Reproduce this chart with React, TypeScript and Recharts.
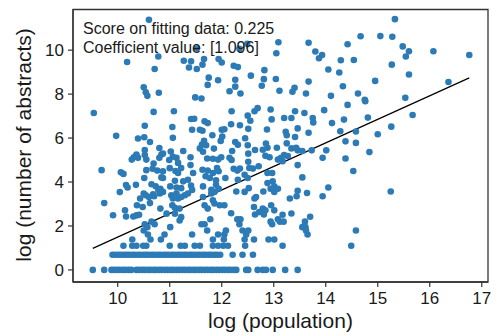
import React from 'react';
import { ScatterChart, Scatter, XAxis, YAxis, ReferenceLine, ReferenceArea, Label } from 'recharts';

const FONT = '"Liberation Sans", Arial, Helvetica, sans-serif';
const DOT = '#2c7bb6';
const INK = '#1a1a1a';
const SPINE = '#333333';

const xTicks = [10, 11, 12, 13, 14, 15, 16, 17];
const yTicks = [0, 2, 4, 6, 8, 10];
const xDomain: [number, number] = [9.14, 17.12];
const yDomain: [number, number] = [-0.55, 11.85];

const scoreText = 'Score on fitting data: 0.225';
const coefText = 'Coefficient value: [1.096]';
const xLabel = 'log (population)';
const yLabel = 'log (number of abstracts)';

// fitted line end points (log population, log abstracts)
const fitLine = [
  { x: 9.52, y: 0.98 },
  { x: 16.76, y: 8.74 },
];

// upper region points [log population, log abstracts]
const upperPoints: [number, number][] = [
  [10.60, 11.38], [10.18, 9.46], [10.78, 9.71], [10.71, 9.14], [10.50, 8.31], [10.54, 8.08], [10.57, 7.92], [10.79, 8.06],
  [12.49, 10.29], [13.09, 10.36], [13.05, 9.86], [12.34, 10.06], [11.52, 10.07], [11.27, 9.52], [11.41, 9.49], [11.37, 9.21],
  [11.52, 9.14], [11.63, 9.34], [11.66, 9.60], [11.94, 9.60], [12.00, 9.44], [12.23, 9.29], [12.31, 9.23], [12.82, 9.09],
  [12.56, 8.84], [11.75, 8.75], [11.93, 8.63], [12.26, 8.65], [12.81, 8.68], [13.04, 8.69], [11.73, 8.42], [12.26, 8.34],
  [12.77, 8.38], [12.15, 8.13], [12.36, 8.03], [13.11, 8.15], [11.49, 7.85], [11.61, 7.80],
  [13.67, 10.34], [14.67, 10.63], [15.05, 10.64], [14.42, 10.27], [13.80, 9.94], [13.93, 9.78], [13.87, 9.63], [14.29, 9.54],
  [14.54, 9.55], [14.05, 9.12], [14.26, 8.98], [13.67, 8.57], [14.95, 8.60], [13.40, 8.29], [13.36, 8.11], [13.62, 8.03],
  [14.33, 8.36], [14.10, 7.92], [14.62, 8.03], [14.75, 7.74],
  [15.33, 11.41], [15.28, 10.61], [15.48, 10.17], [15.60, 9.95], [15.54, 9.71], [16.07, 9.95], [16.76, 9.78], [15.27, 9.34],
  [15.60, 8.89], [16.36, 8.55], [15.53, 7.83],
];

const middlePoints: [number, number][] = [
  [9.54, 7.14], [10.69, 7.19], [11.08, 7.22], [10.52, 6.56], [11.05, 6.50], [9.97, 6.10], [10.39, 5.98], [10.51, 6.04],
  [10.62, 5.82], [11.06, 6.01], [10.80, 5.55], [10.52, 5.46], [11.02, 5.39], [10.36, 5.25], [10.31, 5.13], [10.27, 5.02],
  [10.39, 5.10], [10.52, 5.23], [10.55, 5.02], [10.84, 5.25], [10.80, 5.10], [10.87, 5.29], [10.69, 4.84], [10.99, 5.00],
  [11.06, 5.15], [11.13, 5.10], [9.69, 4.54], [10.06, 4.44], [10.11, 4.37], [10.55, 4.54], [10.67, 4.60], [10.76, 4.52],
  [10.87, 4.49], [11.00, 4.63], [11.11, 4.50], [10.51, 4.18], [10.84, 4.21], [10.87, 4.18], [11.10, 4.06], [10.16, 3.86],
  [10.19, 3.75], [10.35, 3.87], [10.65, 3.90], [10.73, 3.81], [10.78, 3.64], [10.82, 3.69], [11.01, 3.80], [10.04, 3.54],
  [11.13, 3.75],
  [12.19, 7.22], [11.41, 6.87], [11.47, 6.88], [11.67, 6.76], [11.73, 6.68], [12.50, 7.02], [12.55, 6.79], [12.63, 7.22],
  [12.69, 7.36], [12.94, 7.30], [12.96, 6.85], [11.43, 6.38], [11.58, 6.38], [11.63, 6.33], [12.18, 6.63], [12.35, 6.58],
  [12.51, 6.42], [12.00, 6.38], [12.05, 6.40], [12.87, 6.39], [11.82, 6.13], [12.01, 6.07], [11.98, 5.87], [12.26, 5.82],
  [12.31, 5.69], [12.45, 5.99], [11.66, 5.87], [11.62, 5.71], [11.70, 5.67], [11.58, 5.53], [11.64, 5.38], [11.85, 5.52],
  [11.26, 5.41], [12.50, 5.67], [12.85, 5.75], [12.88, 5.56], [12.79, 5.47], [12.64, 5.46], [13.06, 5.56], [12.51, 5.29],
  [12.20, 5.41], [11.40, 5.13], [11.72, 5.07], [11.83, 5.06], [11.93, 5.02], [11.99, 5.13], [12.15, 5.10], [12.19, 5.00],
  [12.51, 4.92], [12.84, 5.19], [12.92, 5.13], [13.08, 5.02], [13.14, 5.10], [11.16, 4.87], [11.22, 4.64], [11.16, 4.41],
  [11.40, 4.77], [11.63, 4.56], [11.73, 4.52], [11.83, 4.41], [11.91, 4.64], [11.94, 4.49], [12.23, 4.60], [12.30, 4.52],
  [12.35, 4.61], [12.53, 4.64], [12.60, 4.61], [12.71, 4.72], [12.88, 4.41], [12.97, 4.41], [11.69, 4.26], [11.77, 4.18],
  [11.45, 4.41], [11.35, 4.10], [11.26, 4.03], [11.41, 3.84], [11.89, 4.08], [12.07, 4.18], [12.31, 4.10], [12.44, 4.33],
  [12.50, 4.18], [12.88, 3.95], [12.98, 4.03], [11.64, 3.80], [11.80, 3.64], [11.89, 3.87], [11.94, 3.69], [12.52, 3.72],
  [12.28, 3.57], [12.80, 3.57], [12.94, 3.69], [13.01, 3.80], [13.08, 3.69], [11.43, 3.64], [11.22, 3.72],
  [14.42, 7.51], [14.76, 7.68], [13.41, 7.22], [13.59, 7.14], [13.97, 7.27], [13.20, 6.91], [13.34, 6.91], [13.75, 6.91],
  [13.76, 6.71], [14.12, 6.68], [14.35, 6.84], [14.81, 6.93], [13.46, 6.44], [13.23, 6.29], [13.25, 6.13], [13.67, 6.24],
  [14.28, 6.31], [14.58, 6.30], [15.00, 6.17], [13.41, 6.05], [14.38, 5.85], [14.58, 5.78], [13.25, 5.76], [13.34, 5.53],
  [13.43, 5.56], [13.46, 5.44], [13.55, 5.41], [13.73, 5.44], [14.01, 5.44], [13.20, 5.23], [13.27, 5.18], [13.17, 4.95],
  [13.94, 5.10], [14.38, 5.07], [14.84, 5.36], [13.46, 4.77], [14.53, 4.50], [13.55, 4.21], [14.05, 3.75], [13.46, 3.60],
  [13.64, 3.50], [15.67, 7.05], [15.26, 6.52], [15.25, 3.57],
];

const lowerPoints: [number, number][] = [
  [9.74, 3.04], [9.91, 2.49], [10.14, 2.71], [10.16, 2.43], [10.30, 2.43], [10.36, 2.48], [10.41, 2.51], [10.37, 2.94],
  [10.48, 2.86], [10.43, 3.25], [10.50, 3.48], [10.54, 3.40], [10.60, 3.32], [10.68, 3.44], [10.70, 3.35], [10.62, 3.04],
  [10.81, 3.48], [10.87, 3.55], [10.82, 2.79], [10.94, 2.56], [11.10, 2.56], [11.03, 3.40], [11.06, 3.25], [11.13, 3.48],
  [11.05, 2.94], [11.10, 2.83],
  [10.52, 2.079], [10.57, 1.946], [10.50, 1.792], [10.65, 2.197], [10.71, 2.079], [11.01, 1.946], [10.58, 1.609], [10.63, 1.386],
  [10.28, 1.386], [10.83, 1.386], [10.90, 1.609],
  [11.16, 3.25], [11.22, 3.32], [11.29, 3.40], [11.35, 3.48], [11.64, 3.32], [11.80, 3.48], [11.86, 3.55], [12.44, 3.55],
  [12.66, 3.32], [12.63, 3.25], [13.01, 3.55],
  [11.19, 2.79], [11.22, 2.40], [11.19, 2.25], [11.67, 2.94], [11.73, 2.79], [11.83, 3.17], [11.86, 3.02], [11.96, 2.94],
  [12.05, 2.94], [11.78, 2.303], [12.18, 2.58], [12.62, 2.86], [12.64, 2.52], [12.72, 2.63], [12.79, 2.79], [12.81, 2.52],
  [12.84, 2.71], [12.95, 2.94], [13.01, 2.71], [12.30, 2.303], [12.36, 2.303],
  [12.34, 2.079], [12.40, 1.792], [12.47, 1.609], [12.51, 1.792], [12.94, 2.197], [12.97, 2.079], [13.12, 2.197], [13.08, 2.303],
  [11.61, 2.079], [11.67, 2.079], [11.72, 1.792], [11.43, 1.609], [11.93, 1.609], [12.08, 1.792], [12.05, 1.609], [11.83, 1.386],
  [12.04, 1.386], [12.44, 1.386], [12.62, 1.386], [12.90, 1.386], [13.01, 1.386],
  [13.44, 3.35], [13.31, 3.25], [13.94, 3.35], [13.17, 2.51], [13.19, 2.197], [13.34, 2.57], [13.70, 2.42], [13.60, 2.197],
  [13.55, 1.946], [13.61, 1.946], [13.62, 1.792], [13.65, 1.609], [14.58, 1.792],
];

// abstracts = 3  (log 3 = 1.099)
const rowLog3X = [10.11, 10.28, 10.36, 10.49, 10.55, 11.00, 11.21, 11.29, 11.48, 11.58, 11.83, 11.93, 12.03, 12.12, 12.45, 13.17, 14.49];
// abstracts = 2  (log 2 = 0.693)
const rowLog2X = [
  9.90, 9.95, 10.01, 10.06, 10.12, 10.17, 10.22, 10.28, 10.33, 10.39, 10.44, 10.50, 10.55, 10.60, 10.66, 10.71, 10.77, 10.82,
  10.88, 10.93, 10.98, 11.04, 11.09, 11.15, 11.20, 11.26, 11.31, 11.37, 11.42, 11.47, 11.53, 11.58, 11.64, 11.69, 11.75, 11.80,
  11.86, 11.91, 11.97, 12.21, 12.40, 12.60,
];
// abstracts = 1  (log 1 = 0)
const rowLog1X = [
  9.52, 9.74, 9.88, 9.93, 9.99, 10.04, 10.10, 10.15, 10.21, 10.26, 10.36, 10.41, 10.47, 10.52, 10.58, 10.63, 10.69, 10.74,
  10.80, 10.85, 10.91, 10.96, 11.02, 11.07, 11.13, 11.18, 11.24, 11.29, 11.35, 11.40, 11.46, 11.51, 11.57, 11.62, 11.68, 11.73,
  11.79, 11.84, 11.90, 11.95, 12.01, 12.06, 12.12, 12.17, 12.23, 12.28, 12.47, 12.51, 12.69, 12.79, 12.85, 12.98, 13.22, 13.46,
];

const points = [
  ...upperPoints.map(([x, y]) => ({ x, y })),
  ...middlePoints.map(([x, y]) => ({ x, y })),
  ...lowerPoints.map(([x, y]) => ({ x, y })),
  ...rowLog3X.map((x) => ({ x, y: 1.099 })),
  ...rowLog2X.map((x) => ({ x, y: 0.693 })),
  ...rowLog1X.map((x) => ({ x, y: 0 })),
];

const Dot = (p: any) => <circle cx={p.cx} cy={p.cy} r={3.3} fill={DOT} />;

export default function App() {
  return (
    <div style={{ position: 'absolute', left: 0, top: 0, width: 497, height: 336, background: '#fff' }}>
      <ScatterChart width={497} height={336} margin={{ top: 9.5, right: 9, bottom: 0, left: 0 }}>
        <XAxis
          type="number"
          dataKey="x"
          domain={xDomain}
          ticks={xTicks}
          allowDataOverflow
          height={54}
          tickSize={5}
          tickMargin={5}
          axisLine={{ stroke: SPINE, strokeWidth: 1.3 }}
          tickLine={{ stroke: SPINE, strokeWidth: 1.2 }}
          tick={{ fill: INK, fontSize: 17, fontFamily: FONT }}
        >
          <Label
            content={() => (
              <text x={280.5} y={328} textAnchor="middle" fill={INK} fontSize={21} fontFamily={FONT}>
                {xLabel}
              </text>
            )}
          />
        </XAxis>
        <YAxis
          type="number"
          dataKey="y"
          domain={yDomain}
          ticks={yTicks}
          allowDataOverflow
          width={73}
          tickSize={5}
          tickMargin={4}
          axisLine={{ stroke: SPINE, strokeWidth: 1.3 }}
          tickLine={{ stroke: SPINE, strokeWidth: 1.2 }}
          tick={{ fill: INK, fontSize: 17, fontFamily: FONT }}
        >
          <Label
            content={() => (
              <text
                x={31}
                y={145}
                transform="rotate(-90 31 145)"
                textAnchor="middle"
                fill={INK}
                fontSize={21}
                fontFamily={FONT}
              >
                {yLabel}
              </text>
            )}
          />
        </YAxis>
        <ReferenceArea
          x1={xDomain[0]}
          x2={xDomain[1]}
          y1={yDomain[0]}
          y2={yDomain[1]}
          fill="none"
          fillOpacity={0}
          stroke={SPINE}
          strokeWidth={1.3}
          ifOverflow="visible"
        />
        <Scatter data={points} shape={Dot} fill={DOT} isAnimationActive={false} />
        <ReferenceLine segment={fitLine} stroke="#000" strokeWidth={1.2} ifOverflow="visible" />
      </ScatterChart>
      <svg
        width={497}
        height={336}
        style={{ position: 'absolute', left: 0, top: 0, pointerEvents: 'none' }}
      >
        <text x={83} y={34} fill={INK} fontSize={16} fontFamily={FONT}>
          {scoreText}
        </text>
        <text x={83} y={52.5} fill={INK} fontSize={16} fontFamily={FONT}>
          {coefText}
        </text>
      </svg>
    </div>
  );
}
